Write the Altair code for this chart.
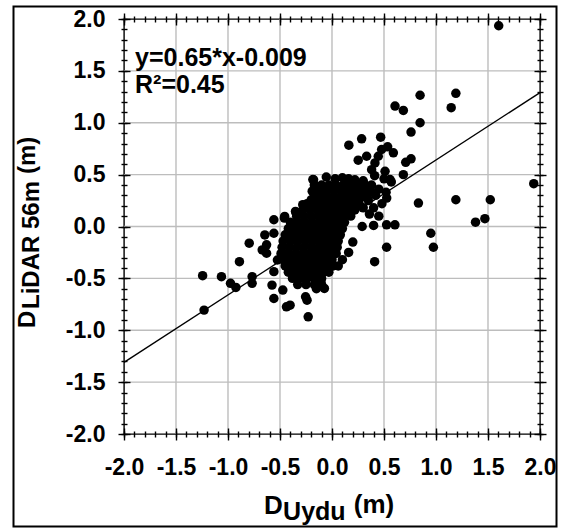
import altair as alt
import pandas as pd

# ---------------- data ----------------
SLOPE = 0.65
INTERCEPT = -0.009
LINE_X = [-2.0, 2.0]

MAJOR = [-2.0, -1.5, -1.0, -0.5, 0.0, 0.5, 1.0, 1.5, 2.0]
GRID = [-1.5, -1.0, -0.5, 0.0, 0.5, 1.0, 1.5]
GRID_LO = [-2.0, -2.0, -2.0, -2.0, -2.0, -2.0, -2.0]
GRID_HI = [2.0, 2.0, 2.0, 2.0, 2.0, 2.0, 2.0]
MINOR = [-2.0, -1.9, -1.8, -1.7, -1.6, -1.5, -1.4, -1.3, -1.2, -1.1, -1.0,
         -0.9, -0.8, -0.7, -0.6, -0.5, -0.4, -0.3, -0.2, -0.1, 0.0,
         0.1, 0.2, 0.3, 0.4, 0.5, 0.6, 0.7, 0.8, 0.9, 1.0,
         1.1, 1.2, 1.3, 1.4, 1.5, 1.6, 1.7, 1.8, 1.9, 2.0]

# scattered points (D_Uydu, D_LiDAR)
SCATTER_X = [1.603, 0.847, 1.191, 0.606, 0.686, 1.146, 0.847, 0.760, 0.468, 0.285,
             0.162, 0.535, 0.590, 0.333, 0.252, 0.445, 0.413, 0.760, 0.709, 0.686,
             0.510, 0.381, 0.477, 1.940, 0.831, 1.191, 1.522, 0.526, 0.558, 1.380,
             1.470, 0.950, 0.975, 0.525, 0.605, 0.400, 0.290, 0.525, 0.410,
             -1.244, -1.063, -0.976, -0.924, -1.230, -0.890, -0.796, -0.768, -0.768,
             -0.671, -0.646, -0.629, -0.629, -0.559, -0.559, -0.455, -0.577, -0.559,
             -0.473, -0.438, -0.403, -0.254, -0.240, -0.229, -0.073, -0.108, -0.559,
             -0.525, -0.351, -0.281, -0.345, -0.458, -0.184, -0.055, -0.023, -0.200,
             -0.152, -0.177, 0.030, 0.100, 0.160, 0.220, 0.300, 0.410, 0.500, 0.570,
             0.250, 0.320, 0.380, 0.450, 0.520, 0.280, 0.350, 0.420, 0.480, 0.300,
             0.220, 0.400, 0.360, 0.450, 0.160, 0.200, 0.100, 0.060, -0.150]
SCATTER_Y = [1.935, 1.265, 1.284, 1.161, 1.119, 1.145, 1.000, 0.910, 0.861, 0.845,
             0.784, 0.768, 0.710, 0.677, 0.639, 0.677, 0.613, 0.652, 0.619, 0.500,
             0.532, 0.548, 0.742, 0.413, 0.226, 0.258, 0.258, 0.274, 0.452, 0.042,
             0.075, -0.065, -0.200, 0.016, 0.016, 0.010, 0.000, -0.200, -0.339,
             -0.474, -0.484, -0.548, -0.587, -0.806, -0.339, -0.161, -0.484, -0.548,
             -0.226, -0.081, -0.177, -0.258, 0.065, -0.065, 0.097, -0.565, -0.694,
             -0.613, -0.774, -0.758, -0.677, -0.710, -0.871, -0.597, -0.532, -0.435,
             -0.323, 0.145, 0.210, 0.129, 0.081, 0.452, 0.477, 0.381, 0.258,
             0.274, 0.450, 0.460, 0.470, 0.460, 0.450, 0.440, 0.490, 0.460, 0.430,
             0.380, 0.350, 0.400, 0.360, 0.330, 0.280, 0.250, 0.300, 0.220, 0.180,
             0.300, 0.180, 0.120, 0.100, -0.250, -0.150, -0.320, -0.380, -0.600]

# dense core of the cloud: D_LiDAR row -> D_Uydu values
CORE_ROWS = {
    0.40: [-0.17, -0.10, -0.03, 0.04, 0.11, 0.18, 0.25, 0.32],
    0.34: [-0.19, -0.12, -0.05, 0.02, 0.09, 0.16, 0.23, 0.30, 0.37],
    0.28: [-0.17, -0.10, -0.04, 0.02, 0.08, 0.14, 0.20, 0.27, 0.34],
    0.22: [-0.24, -0.17, -0.10, -0.04, 0.02, 0.08, 0.14, 0.20, 0.26],
    0.16: [-0.28, -0.21, -0.14, -0.08, -0.02, 0.04, 0.10, 0.16, 0.22],
    0.10: [-0.34, -0.27, -0.20, -0.13, -0.07, -0.01, 0.05, 0.11, 0.18],
    0.04: [-0.40, -0.33, -0.26, -0.19, -0.12, -0.06, 0.00, 0.06, 0.12],
    -0.02: [-0.42, -0.35, -0.28, -0.21, -0.14, -0.08, -0.02, 0.04, 0.10],
    -0.08: [-0.45, -0.38, -0.31, -0.24, -0.17, -0.10, -0.04, 0.02, 0.08],
    -0.14: [-0.47, -0.40, -0.33, -0.26, -0.19, -0.12, -0.06, 0.00, 0.06],
    -0.20: [-0.48, -0.41, -0.34, -0.27, -0.20, -0.13, -0.07, 0.00, 0.05],
    -0.26: [-0.49, -0.42, -0.35, -0.28, -0.21, -0.14, -0.08, -0.02, 0.04],
    -0.32: [-0.47, -0.40, -0.33, -0.26, -0.19, -0.13, -0.07, 0.00],
    -0.38: [-0.45, -0.38, -0.31, -0.24, -0.17, -0.11, -0.05, 0.01],
    -0.44: [-0.42, -0.35, -0.28, -0.21, -0.14, -0.08, -0.03],
    -0.50: [-0.38, -0.31, -0.24, -0.17, -0.10],
    -0.56: [-0.33, -0.25, -0.17, -0.10],
}

ANNOT_TEXT = ["y=0.65*x-0.009", "R\u00b2=0.45"]
ANNOT_X = [-1.894, -1.894]
ANNOT_Y = [1.547, 1.287]

# composite axis titles (text, x, y, font size) in data units
XTITLE_TEXT = ["D", "Uydu", "(m)"]
XTITLE_X = [-0.655, -0.47, 0.21]
XTITLE_Y = [-2.771, -2.829, -2.761]
XTITLE_SIZE = [26, 25, 26]

YTITLE_TEXT = ["D", "LiDAR 56m", "(m)"]
YTITLE_X = [-2.856, -2.822, -2.856]
YTITLE_Y = [-0.978, -0.795, 0.506]
YTITLE_SIZE = [24, 24, 24]

FRAME_X = [-3.0625, 2.1587]
FRAME_Y = [2.1205, -2.8916]

# ---------------- build ----------------
FONT = "Liberation Sans"
W, H = 416, 415

px, py = list(SCATTER_X), list(SCATTER_Y)
for yv, xvals in CORE_ROWS.items():
    for xv in xvals:
        px.append(xv)
        py.append(yv)
pts = pd.DataFrame({"x": px, "y": py})
line_df = pd.DataFrame({"x": LINE_X, "y": [SLOPE * v + INTERCEPT for v in LINE_X]})
grid_df = pd.DataFrame({"gv": GRID, "glo": GRID_LO, "ghi": GRID_HI})
annot_df = pd.DataFrame({"x": ANNOT_X, "y": ANNOT_Y, "t": ANNOT_TEXT})
xt_df = pd.DataFrame({"x": XTITLE_X, "y": XTITLE_Y, "t": XTITLE_TEXT, "s": XTITLE_SIZE})
yt_df = pd.DataFrame({"x": YTITLE_X, "y": YTITLE_Y, "t": YTITLE_TEXT, "s": YTITLE_SIZE})
frame_df = pd.DataFrame({"x1": [FRAME_X[0]], "x2": [FRAME_X[1]],
                         "y1": [FRAME_Y[0]], "y2": [FRAME_Y[1]]})


def sc():
    return alt.Scale(domain=[-2, 2], nice=False, zero=False)


LABEL_EXPR = ("datum.value < 0 ? '-' + format(-datum.value, '.1f') "
              ": format(datum.value, '.1f')")


def main_axis(orient, pad):
    return alt.Axis(orient=orient, values=MAJOR, grid=False, ticks=False,
                    domain=False, labelFont=FONT,
                    labelFontSize=23, labelFontWeight="bold", labelColor="black",
                    labelPadding=pad, labelExpr=LABEL_EXPR, labelFlush=False,
                    labelOverlap=False, title=None, zindex=1)


def tick_axis(orient, vals, size):
    return alt.Axis(orient=orient, values=vals, offset=-size / 2, tickSize=size,
                    ticks=True, labels=False, domain=False, grid=False,
                    tickColor="black", tickWidth=1.4, title=None, zindex=1)


vgrid = alt.Chart(grid_df).mark_rule(stroke="#bdbdbd", strokeWidth=1.4).encode(
    x=alt.X("gv:Q", scale=sc(), axis=None),
    y=alt.Y("glo:Q", scale=sc(), axis=None), y2="ghi:Q")
hgrid = alt.Chart(grid_df).mark_rule(stroke="#bdbdbd", strokeWidth=1.4).encode(
    y=alt.Y("gv:Q", scale=sc(), axis=None),
    x=alt.X("glo:Q", scale=sc(), axis=None), x2="ghi:Q")

# outer black border of the figure (transparent inside)
frame = alt.Chart(frame_df).mark_rect(fill="white", fillOpacity=0, stroke="black",
                                      strokeWidth=2).encode(
    x=alt.X("x1:Q", scale=sc(), axis=None), x2="x2:Q",
    y=alt.Y("y1:Q", scale=sc(), axis=None), y2="y2:Q")

line = alt.Chart(line_df).mark_line(color="black", strokeWidth=1.4).encode(
    x=alt.X("x:Q", scale=sc(), axis=tick_axis("bottom", MAJOR, 12)),
    y=alt.Y("y:Q", scale=sc(), axis=tick_axis("left", MAJOR, 12)))


def ghost(xo, yo, vals, size):
    return alt.Chart(line_df).mark_line(opacity=0).encode(
        x=alt.X("x:Q", scale=sc(), axis=tick_axis(xo, vals, size)),
        y=alt.Y("y:Q", scale=sc(), axis=tick_axis(yo, vals, size)))


g1 = ghost("bottom", "left", MINOR, 6)
g2 = ghost("top", "right", MAJOR, 12)
g3 = ghost("top", "right", MINOR, 6)

points = alt.Chart(pts).mark_circle(size=90, color="black", opacity=1).encode(
    x=alt.X("x:Q", scale=sc(), axis=main_axis("bottom", 22)),
    y=alt.Y("y:Q", scale=sc(), axis=main_axis("left", 19)))

annot = alt.Chart(annot_df).mark_text(
    align="left", baseline="alphabetic", font=FONT, fontSize=25,
    fontWeight="bold", color="black").encode(
    x=alt.X("x:Q", scale=sc(), axis=None), y=alt.Y("y:Q", scale=sc(), axis=None),
    text="t:N")

xtitle = alt.Chart(xt_df).mark_text(
    align="left", baseline="alphabetic", font=FONT, fontWeight="bold",
    color="black").encode(
    x=alt.X("x:Q", scale=sc(), axis=None), y=alt.Y("y:Q", scale=sc(), axis=None),
    text="t:N", size=alt.Size("s:Q", scale=None, legend=None))

ytitle = alt.Chart(yt_df).mark_text(
    align="left", baseline="alphabetic", font=FONT, fontWeight="bold",
    color="black", angle=270).encode(
    x=alt.X("x:Q", scale=sc(), axis=None), y=alt.Y("y:Q", scale=sc(), axis=None),
    text="t:N", size=alt.Size("s:Q", scale=None, legend=None))

chart = alt.layer(vgrid, hgrid, frame, line, g1, g2, g3, points, annot, xtitle,
                  ytitle).resolve_axis(
    x="independent", y="independent"
).properties(
    width=W, height=H,
    autosize=alt.AutoSizeParams(type="none"),
    padding={"left": 124, "top": 19, "right": 23, "bottom": 95},
    background="white",
).configure_view(stroke="black", strokeWidth=1.4)

chart.save("out.html", embed_options={"renderer": "svg", "actions": False})
